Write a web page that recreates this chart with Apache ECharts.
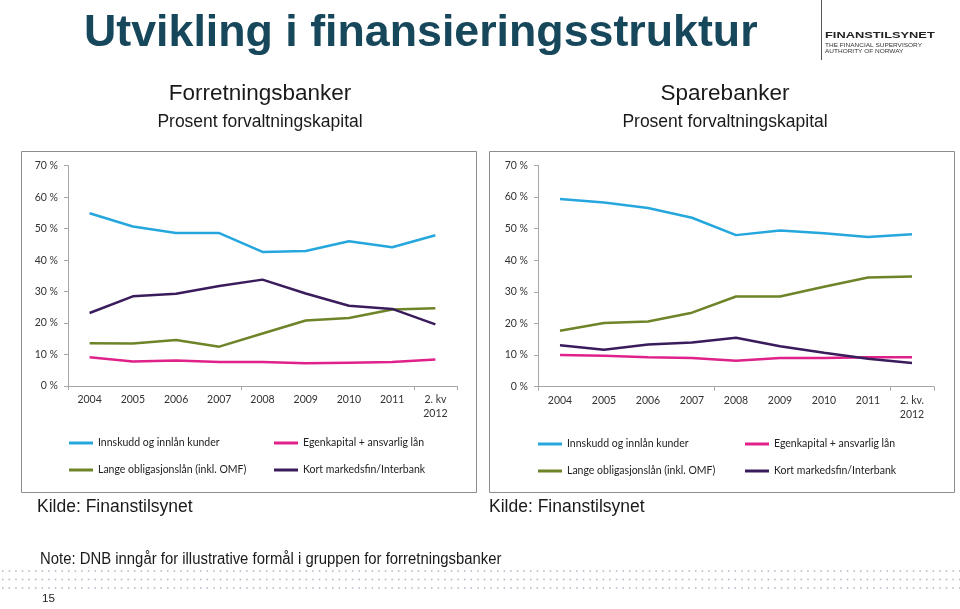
<!DOCTYPE html>
<html><head><meta charset="utf-8">
<script src="https://cdn.jsdelivr.net/npm/echarts@6/dist/echarts.min.js"></script>
<style>html,body{margin:0;padding:0;background:#fff}#c{width:960px;height:609px}</style>
</head><body><div id="c"></div>
<script>
const categories = ['2004','2005','2006','2007','2008','2009','2010','2011','2. kv\n2012'];
const categoriesRight = ['2004','2005','2006','2007','2008','2009','2010','2011','2. kv.\n2012'];
const seriesNames = ['Innskudd og innlån kunder','Egenkapital + ansvarlig lån','Lange obligasjonslån (inkl. OMF)','Kort markedsfin/Interbank'];
// Forretningsbanker (percent)
const fInnskudd = [54.9,50.7,48.6,48.6,42.6,42.9,46.0,44.1,47.9];
const fEgenkapital = [9.1,7.8,8.1,7.6,7.6,7.2,7.4,7.6,8.4];
const fLange = [13.6,13.5,14.6,12.5,16.7,20.8,21.6,24.3,24.7];
const fKort = [23.2,28.5,29.3,31.8,33.8,29.4,25.5,24.5,19.6];
// Sparebanker (percent)
const sInnskudd = [59.3,58.2,56.5,53.4,47.9,49.4,48.5,47.3,48.2];
const sEgenkapital = [10.0,9.8,9.3,9.1,8.2,9.1,9.1,9.3,9.3];
const sLange = [17.7,20.1,20.6,23.4,28.5,28.5,31.6,34.5,34.8];
const sKort = [13.1,11.7,13.3,14.0,15.5,12.8,10.7,8.8,7.5];
const yTicks = [0,10,20,30,40,50,60,70];

const colors = ['#25a7dd','#e0218a','#6e8428','#3a1c5c'];
const font = 'Lato, "Open Sans", sans-serif';
const sans = '"Liberation Sans", Arial, sans-serif';
const chart = echarts.init(document.getElementById('c'), null, {renderer:'canvas'});

function xAxis(gi, cats){
  return {type:'category', gridIndex:gi, data:cats, boundaryGap:true,
    axisLine:{lineStyle:{color:'#a6a6a6',width:1}},
    axisTick:{show:true, interval:3, length:4, lineStyle:{color:'#a6a6a6'}},
    axisLabel:{color:'#333', fontFamily:font, fontSize:10.5, margin:7, lineHeight:14, interval:0}};
}
function yAxis(gi){
  return {type:'value', gridIndex:gi, min:yTicks[0], max:yTicks[yTicks.length-1], interval:10,
    splitLine:{show:false},
    axisLine:{show:true, lineStyle:{color:'#a6a6a6',width:1}},
    axisTick:{show:true, length:4, lineStyle:{color:'#a6a6a6'}},
    axisLabel:{formatter:'{value} %', color:'#333', fontFamily:font, fontSize:10.5, margin:10}};
}
function line(name, data, idx, gi){
  return {name:name, type:'line', xAxisIndex:gi, yAxisIndex:gi, data:data, symbol:'none',
    lineStyle:{width:2.5, color:colors[idx]}, itemStyle:{color:colors[idx]}, z:3+(idx===3?1:0)};
}
function legend(left, top, names){
  return {orient:'vertical', left:left, top:top, data:names, icon:'rect', itemWidth:24, itemHeight:3,
    itemGap:15, textStyle:{fontFamily:font, fontSize:10.5, color:'#222', lineHeight:12}, padding:0, selectedMode:false};
}
function t(x, y, text, size, extra){
  const el = {type:'text', x:x, y:y, style:Object.assign({text:text, fontSize:size, fontFamily:sans, fill:'#1a1a1a', verticalAlign:'middle'}, extra && extra.style || {})};
  if (extra && extra.scaleX) el.scaleX = extra.scaleX;
  return el;
}

const graphics = [
  {type:'rect', shape:{x:21.5,y:151.5,width:455,height:341}, style:{fill:'none', stroke:'#8c8c8c', lineWidth:1}, z:-1},
  {type:'rect', shape:{x:489.5,y:151.5,width:465,height:341}, style:{fill:'none', stroke:'#8c8c8c', lineWidth:1}, z:-1},
  t(84, 34, 'Utvikling i finansieringsstruktur', 45, {scaleX:0.994, style:{fontWeight:'bold', fill:'#17475a'}}),
  t(260, 93.5, 'Forretningsbanker', 22.5, {style:{align:'center'}}),
  t(260, 122.5, 'Prosent forvaltningskapital', 17.5, {style:{align:'center'}}),
  t(725, 93.5, 'Sparebanker', 22.5, {style:{align:'center'}}),
  t(725, 122.5, 'Prosent forvaltningskapital', 17.5, {style:{align:'center'}}),
  t(37, 507, 'Kilde: Finanstilsynet', 17.5),
  t(489, 507, 'Kilde: Finanstilsynet', 17.5),
  t(40, 560, 'Note: DNB inngår for illustrative formål i gruppen for forretningsbanker', 16, {scaleX:0.93}),
  t(42, 599, '15', 11.6),
  {type:'line', shape:{x1:821.5,y1:0,x2:821.5,y2:60}, style:{stroke:'#555', lineWidth:1}},
  t(825, 35.5, 'FINANSTILSYNET', 9.5, {scaleX:1.35, style:{fontWeight:'bold', fill:'#222'}}),
  t(825, 45.3, 'THE FINANCIAL SUPERVISORY', 6, {scaleX:1.08, style:{fill:'#333'}}),
  t(825, 51.8, 'AUTHORITY OF NORWAY', 6, {scaleX:1.08, style:{fill:'#333'}})
];
[571, 579.5, 588].forEach(y => graphics.push({type:'line', shape:{x1:2,y1:y,x2:960,y2:y}, style:{stroke:'#aab6c4', lineWidth:1.5, lineDash:[1.5,5.1]}}));

chart.setOption({
  animation:false,
  color:colors,
  grid:[
    {left:68, right:503, top:165.7, bottom:223},
    {left:538, right:26, top:165.2, bottom:222.3}
  ],
  xAxis:[xAxis(0,categories), xAxis(1,categoriesRight)],
  yAxis:[yAxis(0), yAxis(1)],
  legend:[
    legend(69, 437, [seriesNames[0], seriesNames[2]]),
    legend(274, 437, [seriesNames[1], seriesNames[3]]),
    legend(538, 438, [seriesNames[0], seriesNames[2]]),
    legend(745, 438, [seriesNames[1], seriesNames[3]])
  ],
  series:[
    line(seriesNames[0], fInnskudd, 0, 0),
    line(seriesNames[1], fEgenkapital, 1, 0),
    line(seriesNames[2], fLange, 2, 0),
    line(seriesNames[3], fKort, 3, 0),
    line(seriesNames[0], sInnskudd, 0, 1),
    line(seriesNames[1], sEgenkapital, 1, 1),
    line(seriesNames[2], sLange, 2, 1),
    line(seriesNames[3], sKort, 3, 1)
  ],
  graphic:graphics
});
</script></body></html>
